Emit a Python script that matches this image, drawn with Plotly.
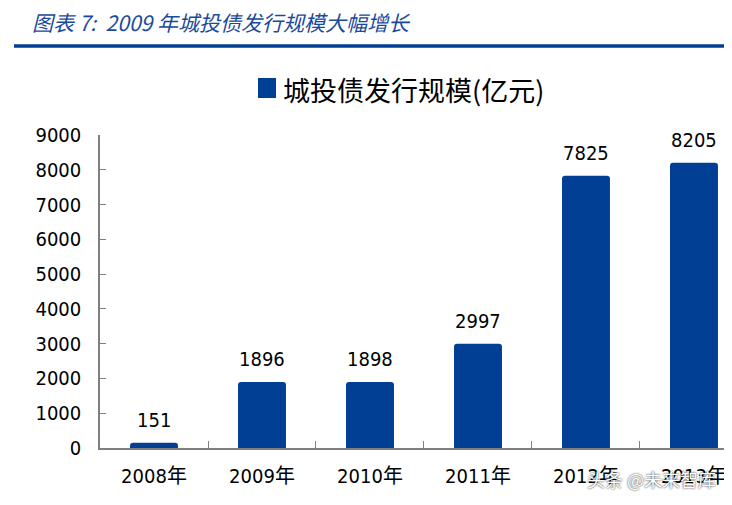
import plotly.graph_objects as go

categories = ["2008年", "2009年", "2010年", "2011年", "2012年", "2013年"]
values = [151, 1896, 1898, 2997, 7825, 8205]
y_ticks = [0, 1000, 2000, 3000, 4000, 5000, 6000, 7000, 8000, 9000]
series_name = "城投债发行规模(亿元)"
title_text = "图表 7:  2009 年城投债发行规模大幅增长"
watermark = "头条 @未来智库"

BLUE = "#003f94"
NUM_FONT = "DejaVu Sans Condensed, DejaVu Sans, sans-serif"
CJK_FONT = "Noto Sans CJK SC"

# plot area in figure pixels
L, T, PW, PH = 92, 127, 632, 313

def px(x):
    return (x - L) / PW

def py(y):
    return 1 - (y - T) / PH

fig = go.Figure()
fig.add_trace(go.Bar(
    x=categories, y=values, name=series_name,
    marker=dict(color=BLUE, cornerradius=3, line=dict(width=0)),
    showlegend=False,
))

label_annotations = [
    dict(x=c, y=v, xref="x", yref="y", text=str(v), showarrow=False,
         xanchor="center", yanchor="bottom", yshift=9,
         font=dict(family=NUM_FONT, size=20, color="#000000"))
    for c, v in zip(categories, values)
]

fig.update_layout(
    width=732, height=505,
    margin=dict(l=L, r=732 - L - PW, t=T, b=505 - T - PH),
    paper_bgcolor="white", plot_bgcolor="white",
    bargap=0.556,
    font=dict(family=NUM_FONT, color="#000000"),
    xaxis=dict(
        type="category", range=[-0.5, 5.352],
        showline=True, linecolor="#7f7f7f", linewidth=1.5,
        ticks="inside", ticklen=7, tickcolor="#7f7f7f", tickson="boundaries",
        showgrid=False, ticklabelstandoff=9,
        tickfont=dict(family=NUM_FONT + ", " + CJK_FONT, size=20, color="#000000"),
    ),
    yaxis=dict(
        range=[0, 9000], tickvals=y_ticks,
        showline=True, linecolor="#7f7f7f", linewidth=1.5,
        ticks="inside", ticklen=6, tickcolor="#7f7f7f",
        showgrid=False, zeroline=False, ticklabelstandoff=13,
        tickfont=dict(family=NUM_FONT, size=20, color="#000000"),
    ),
    shapes=[
        dict(type="line", xref="paper", yref="paper", x0=px(6), x1=px(732),
             y0=py(38), y1=py(38),
             line=dict(color=BLUE, width=3.5)),
        dict(type="rect", xref="paper", yref="paper",
             x0=px(250), x1=px(268),
             y0=py(90), y1=py(70),
             fillcolor=BLUE, line=dict(width=0)),
    ],
    annotations=label_annotations + [
        dict(text="<i>" + title_text + "</i>", xref="paper", yref="paper",
             x=px(22), y=py(14), xanchor="left", yanchor="middle",
             showarrow=False, font=dict(family=CJK_FONT, size=21, color="#1a4a9e")),
        dict(text=series_name, xref="paper", yref="paper",
             x=px(273), y=py(81), xanchor="left", yanchor="middle",
             showarrow=False, font=dict(family=CJK_FONT, size=27, color="#000000")),
        dict(text=watermark, xref="paper", yref="paper",
             x=px(643), y=py(471), xanchor="center", yanchor="middle",
             showarrow=False,
             font=dict(family=CJK_FONT, size=18, color="#ffffff",
                       shadow="0px 0px 2px #000000")),
    ],
)

fig.write_html("out.html")
